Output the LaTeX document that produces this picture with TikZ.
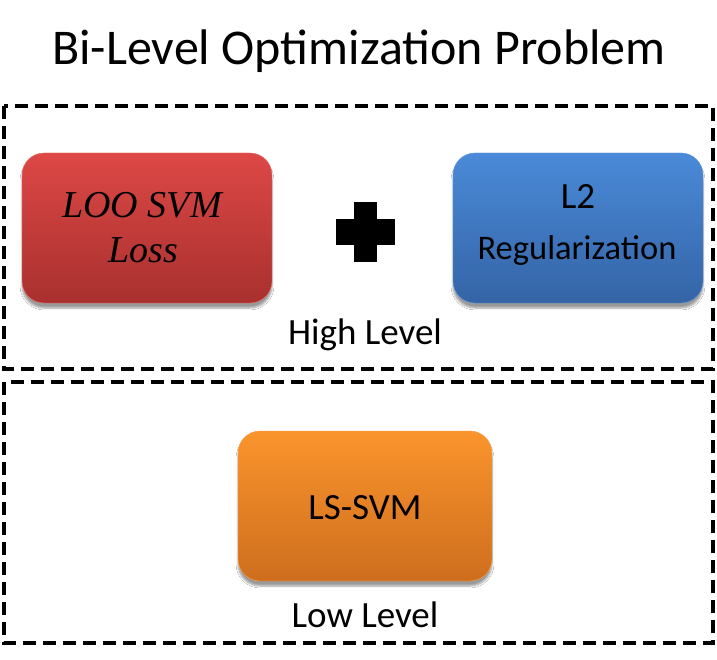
\documentclass[tikz,border=0pt]{standalone}
\usepackage{fontspec}
\setmainfont{Carlito}
\newfontfamily\mathitfont{Liberation Serif}
\usetikzlibrary{shadows,shadows.blur}
\begin{document}
\begin{tikzpicture}[x=1pt,y=-1pt,
  levelbox/.style={draw=black,line width=3.5pt,dash pattern=on 13pt off 7pt},
  card/.style={rounded corners=22pt,minimum width=250pt,minimum height=150pt,inner sep=0pt,
    blur shadow={shadow xshift=0pt,shadow yshift=-5pt,shadow blur steps=6,shadow opacity=40}},
  lbl/.style={font=\fontsize{37}{40}\selectfont,inner sep=0pt,anchor=base},
  itl/.style={font=\mathitfont\itshape\fontsize{38}{40}\selectfont,inner sep=0pt,anchor=base}]
\useasboundingbox (0,0) rectangle (717,660);
\fill[white] (0,0) rectangle (717,660);
\node[font=\fontsize{50}{54}\selectfont,inner sep=0pt,anchor=base] (title) at (359,65) {Bi-Level Optimization Problem};
\draw[levelbox] (4,106) rectangle (713,369);
\draw[levelbox] (4,382) rectangle (713,643);
\node[card,top color={rgb,255:red,221;green,72;blue,70},bottom color={rgb,255:red,168;green,48;blue,46},
  draw={rgb,255:red,235;green,110;blue,105}] (loo) at (147,228) {};
\node[card,top color={rgb,255:red,74;green,138;blue,216},bottom color={rgb,255:red,52;green,100;blue,166},
  draw={rgb,255:red,90;green,150;blue,220}] (l2) at (578,228) {};
\node[card,minimum width=254pt,top color={rgb,255:red,250;green,148;blue,44},bottom color={rgb,255:red,206;green,110;blue,30},
  draw={rgb,255:red,252;green,160;blue,70}] (ls) at (365,506) {};
\node[itl] (t1) at (142,218) {LOO SVM};
\node[itl] (t2) at (143,262) {Loss};
\node[lbl] (t3) at (578,209) {L2};
\node[lbl,font=\fontsize{34.5}{40}\selectfont] (t4) at (577,260) {Regularization};
\node[lbl] (t5) at (365,519) {LS-SVM};
\fill[black] (354,202) rectangle (377,262);
\fill[black] (336,219) rectangle (395,245);
\node[lbl] (high) at (365,344) {High Level};
\node[lbl] (low) at (365,627) {Low Level};
\end{tikzpicture}
\end{document}
